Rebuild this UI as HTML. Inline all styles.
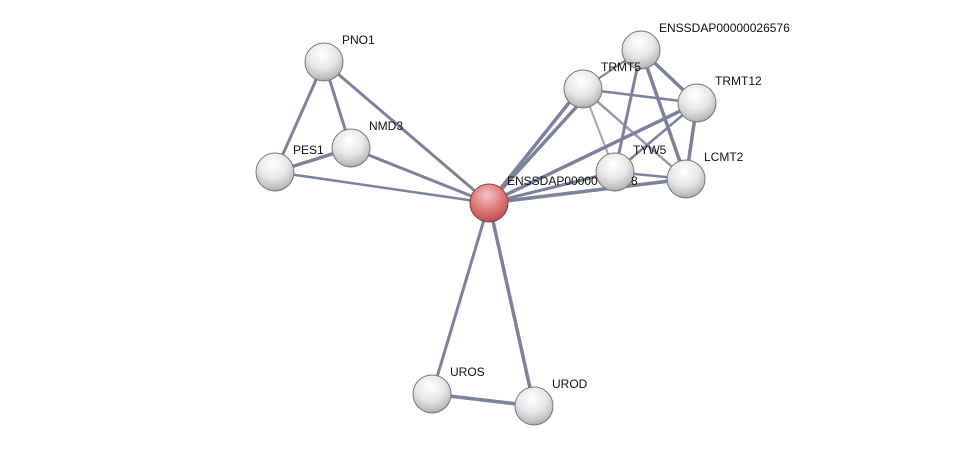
<!DOCTYPE html>
<html><head><style>
body{margin:0;background:#fff;}
svg{display:block;}
text{font-family:"Liberation Sans",sans-serif;font-size:12px;fill:#111;}
</style></head><body>
<svg width="976" height="451" viewBox="0 0 976 451">
<defs>
<radialGradient id="g" cx="0.45" cy="0.3" r="0.75">
<stop offset="0" stop-color="#ffffff"/><stop offset="0.5" stop-color="#e8e8e8"/><stop offset="0.85" stop-color="#bdbdbd"/><stop offset="1" stop-color="#8a8a8a"/>
</radialGradient>
<radialGradient id="r" cx="0.45" cy="0.3" r="0.75">
<stop offset="0" stop-color="#f6c4c4"/><stop offset="0.5" stop-color="#e07e7e"/><stop offset="0.85" stop-color="#c45858"/><stop offset="1" stop-color="#8f3a3a"/>
</radialGradient>
</defs>
<g stroke="#6e7592" stroke-width="3" stroke-linecap="round" opacity="0.9">
<line x1="489" y1="203" x2="324" y2="62"/>
<line x1="489" y1="203" x2="351" y2="148"/>
<line x1="489" y1="203" x2="275" y2="172" stroke-width="2.5"/>
<line x1="489" y1="203" x2="580" y2="89" stroke-width="3.5"/>
<line x1="489" y1="203" x2="590" y2="92" stroke-width="3.5"/>
<line x1="489" y1="203" x2="697" y2="103" stroke-width="3.5"/>
<line x1="489" y1="203" x2="615" y2="172"/>
<line x1="489" y1="203" x2="686" y2="179" stroke-width="3.5"/>
<line x1="489" y1="203" x2="432" y2="394"/>
<line x1="489" y1="203" x2="534" y2="406" stroke-width="3.5"/>
<line x1="324" y1="62" x2="275" y2="172"/>
<line x1="324" y1="62" x2="351" y2="148"/>
<line x1="351" y1="148" x2="275" y2="172" stroke-width="3.5"/>
<line x1="432" y1="394" x2="534" y2="406" stroke-width="3.5"/>
<line x1="583" y1="89" x2="641" y2="50" stroke-width="2"/>
<line x1="583" y1="89" x2="697" y2="103" stroke-width="2.5"/>
<line x1="583" y1="89" x2="615" y2="172" stroke-width="2" opacity="0.7"/>
<line x1="583" y1="89" x2="686" y2="179" stroke-width="2.5" opacity="0.8"/>
<line x1="641" y1="50" x2="697" y2="103" stroke-width="3.5"/>
<line x1="641" y1="50" x2="615" y2="172" stroke-width="3"/>
<line x1="641" y1="50" x2="686" y2="179" stroke-width="3.5"/>
<line x1="697" y1="103" x2="615" y2="172" stroke-width="2.5"/>
<line x1="697" y1="103" x2="686" y2="179" stroke-width="3.5"/>
<line x1="615" y1="172" x2="686" y2="179" stroke-width="2.5"/>
</g>
<g stroke="#777" stroke-width="1">
<circle cx="324" cy="62" r="19" fill="url(#g)"/>
<circle cx="351" cy="148" r="19" fill="url(#g)"/>
<circle cx="275" cy="172" r="19" fill="url(#g)"/>
<circle cx="583" cy="89" r="19" fill="url(#g)"/>
<circle cx="641" cy="50" r="19" fill="url(#g)"/>
<circle cx="697" cy="103" r="19" fill="url(#g)"/>
<circle cx="615" cy="172" r="19" fill="url(#g)"/>
<circle cx="686" cy="179" r="19" fill="url(#g)"/>
<circle cx="432" cy="394" r="19" fill="url(#g)"/>
<circle cx="534" cy="406" r="19" fill="url(#g)"/>
<circle cx="489" cy="203" r="19" fill="url(#r)" stroke="#8a3e3e"/>
</g>
<text x="342" y="44">PNO1</text>
<text x="369" y="130">NMD3</text>
<text x="293" y="154">PES1</text>
<text x="601" y="71">TRMT5</text>
<text x="659" y="32">ENSSDAP00000026576</text>
<text x="715" y="85">TRMT12</text>
<text x="633" y="154">TYW5</text>
<text x="704" y="161">LCMT2</text>
<text x="507" y="185">ENSSDAP00000</text>
<text x="631" y="185">8</text>
<text x="450" y="376">UROS</text>
<text x="552" y="388">UROD</text>
</svg>
</body></html>
